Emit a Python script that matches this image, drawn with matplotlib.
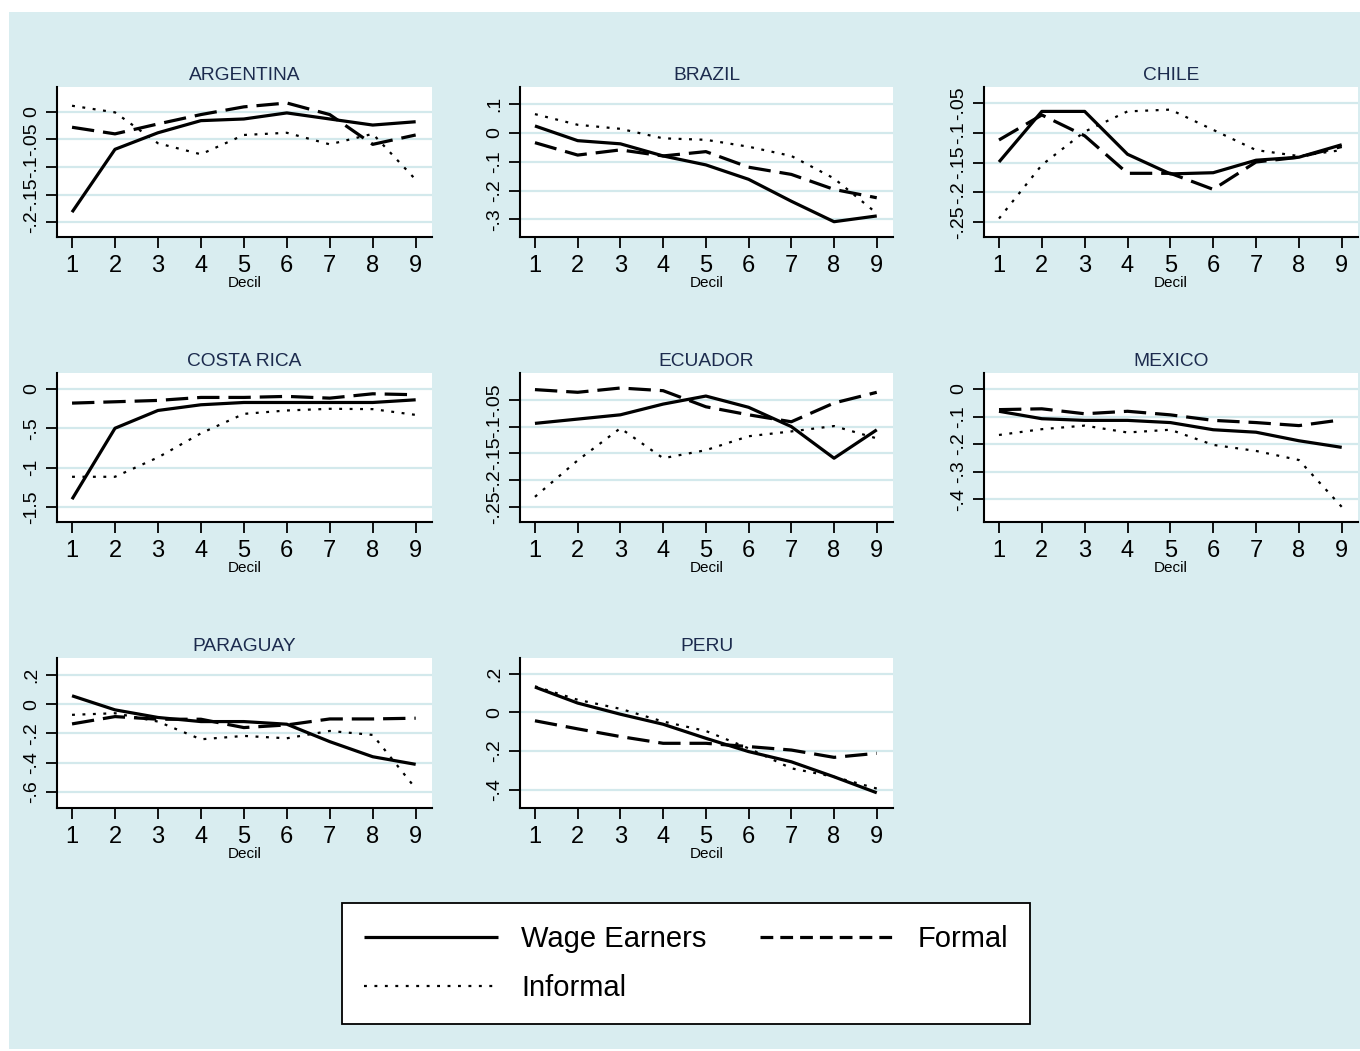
import numpy as np
import matplotlib
matplotlib.use("Agg")
import matplotlib.pyplot as plt
from matplotlib.patches import Rectangle
from matplotlib.lines import Line2D

plt.rcParams['font.family'] = ['Liberation Sans', 'DejaVu Sans']

deciles = [1, 2, 3, 4, 5, 6, 7, 8, 9]
countries = ["ARGENTINA", "BRAZIL", "CHILE", "COSTA RICA", "ECUADOR",
             "MEXICO", "PARAGUAY", "PERU"]

wage_earners = {
    "ARGENTINA": [-0.182, -0.068, -0.038, -0.016, -0.013, -0.002, -0.013, -0.024, -0.018],
    "BRAZIL": [0.024, -0.027, -0.038, -0.080, -0.111, -0.161, -0.237, -0.308, -0.288],
    "CHILE": [-0.149, -0.064, -0.064, -0.136, -0.169, -0.167, -0.146, -0.141, -0.120],
    "COSTA RICA": [-1.398, -0.500, -0.275, -0.203, -0.174, -0.174, -0.174, -0.174, -0.140],
    "ECUADOR": [-0.094, -0.086, -0.078, -0.058, -0.043, -0.064, -0.100, -0.159, -0.106],
    "MEXICO": [-0.081, -0.108, -0.114, -0.114, -0.122, -0.148, -0.157, -0.188, -0.212],
    "PARAGUAY": [0.057, -0.039, -0.091, -0.119, -0.119, -0.137, -0.256, -0.359, -0.411],
    "PERU": [0.132, 0.049, -0.009, -0.061, -0.134, -0.203, -0.256, -0.334, -0.417],
}
formal = {
    "ARGENTINA": [-0.028, -0.040, -0.022, -0.005, 0.009, 0.016, -0.005, -0.059, -0.042],
    "BRAZIL": [-0.034, -0.077, -0.059, -0.080, -0.065, -0.119, -0.144, -0.196, -0.225],
    "CHILE": [-0.112, -0.070, -0.105, -0.168, -0.168, -0.195, -0.149, -0.141, -0.123],
    "COSTA RICA": [-0.182, -0.165, -0.148, -0.110, -0.110, -0.097, -0.119, -0.064, -0.076],
    "ECUADOR": [-0.031, -0.036, -0.028, -0.033, -0.063, -0.078, -0.091, -0.056, -0.036],
    "MEXICO": [-0.075, -0.072, -0.090, -0.081, -0.094, -0.114, -0.122, -0.133, -0.112],
    "PARAGUAY": [-0.135, -0.085, -0.103, -0.103, -0.160, -0.142, -0.101, -0.101, -0.096],
    "PERU": [-0.043, -0.085, -0.125, -0.160, -0.160, -0.177, -0.195, -0.233, -0.212],
}
informal = {
    "ARGENTINA": [0.011, -0.001, -0.057, -0.077, -0.042, -0.038, -0.059, -0.040, -0.123],
    "BRAZIL": [0.065, 0.028, 0.014, -0.019, -0.024, -0.048, -0.080, -0.158, -0.279],
    "CHILE": [-0.244, -0.154, -0.098, -0.064, -0.061, -0.095, -0.129, -0.139, -0.129],
    "COSTA RICA": [-1.114, -1.114, -0.869, -0.564, -0.318, -0.275, -0.254, -0.258, -0.331],
    "ECUADOR": [-0.231, -0.163, -0.103, -0.159, -0.144, -0.118, -0.109, -0.099, -0.122],
    "MEXICO": [-0.167, -0.146, -0.133, -0.158, -0.148, -0.203, -0.225, -0.258, -0.428],
    "PARAGUAY": [-0.073, -0.062, -0.119, -0.240, -0.217, -0.233, -0.183, -0.210, -0.576],
    "PERU": [0.136, 0.066, 0.019, -0.047, -0.096, -0.186, -0.290, -0.334, -0.395],
}
y_ticks = {
    "ARGENTINA": [-0.2, -0.15, -0.1, -0.05, 0],
    "BRAZIL": [-0.3, -0.2, -0.1, 0, 0.1],
    "CHILE": [-0.25, -0.2, -0.15, -0.1, -0.05],
    "COSTA RICA": [-1.5, -1, -0.5, 0],
    "ECUADOR": [-0.25, -0.2, -0.15, -0.1, -0.05],
    "MEXICO": [-0.4, -0.3, -0.2, -0.1, 0],
    "PARAGUAY": [-0.6, -0.4, -0.2, 0, 0.2],
    "PERU": [-0.4, -0.2, 0, 0.2],
}

# axis ranges (padded like Stata does)
y_lims = {
    "ARGENTINA": (-0.227, 0.045),
    "BRAZIL": (-0.361, 0.159),
    "CHILE": (-0.275, -0.023),
    "COSTA RICA": (-1.686, 0.199),
    "ECUADOR": (-0.278, 0.0),
    "MEXICO": (-0.483, 0.058),
    "PARAGUAY": (-0.709, 0.315),
    "PERU": (-0.496, 0.283),
}

BG = "#d9edf0"
GRID = "#d3e9ec"
TITLE = "#1c2b4e"
W, H = 1360, 1051


def stata_label(v):
    s = f"{v:g}"
    return s.replace("0.", ".")


solid_kw = dict(color="black", lw=2.3, solid_capstyle="butt")
dash_kw = dict(color="black", lw=2.3, dashes=(7, 2.8), dash_capstyle="butt")
dot_kw = dict(color="black", lw=1.6, dashes=(1.3, 3.4), dash_capstyle="butt")

fig = plt.figure(figsize=(W / 100, H / 100), dpi=100, facecolor="white")
fig.patches.append(Rectangle((9 / W, 2 / H), 1 - 9 / W, 1 - 14 / H,
                             transform=fig.transFigure, facecolor=BG,
                             edgecolor="none", zorder=-10))

cols = [(57, 432), (520, 893), (984, 1358)]
rows = [(87, 237), (373, 522), (658, 808)]

for i, name in enumerate(countries):
    (x0, x1), (y0, y1) = cols[i % 3], rows[i // 3]
    ax = fig.add_axes([x0 / W, 1 - y1 / H, (x1 - x0) / W, (y1 - y0) / H])
    ax.set_facecolor("white")
    for s in ("top", "right"):
        ax.spines[s].set_visible(False)
    for s in ("left", "bottom"):
        ax.spines[s].set_linewidth(1.5)

    ax.plot(deciles, informal[name], **dot_kw, zorder=3)
    ax.plot(deciles, formal[name], **dash_kw, zorder=4)
    ax.plot(deciles, wage_earners[name], **solid_kw, zorder=5)

    ax.set_xlim(0.65, 9.38)
    ax.set_ylim(*y_lims[name])
    ax.set_xticks(deciles)
    ax.set_yticks(y_ticks[name])
    ax.set_yticklabels([stata_label(v) for v in y_ticks[name]],
                       rotation=90, va="center")
    ax.grid(axis="y", color=GRID, lw=1.6, zorder=1)
    ax.set_axisbelow(True)
    ax.tick_params(axis="x", length=8, width=1.3, labelsize=17, pad=5)
    ax.tick_params(axis="y", length=8, width=1.3, labelsize=14, pad=4)
    ax.set_xlabel("Decil", fontsize=11, labelpad=-1)
    ax.set_title(name, fontsize=13.8, color=TITLE, pad=5)

handles = [
    Line2D([], [], **solid_kw),
    Line2D([], [], **dot_kw),
    Line2D([], [], color="black", lw=2.3, dashes=(4, 2.2)),
]
labels = ["Wage Earners", "Informal", "Formal"]
leg = fig.legend(handles, labels, ncol=2, loc="center",
                 bbox_to_anchor=(342 / W, 1 - 1022 / H, 688 / W, 117 / H),
                 mode="expand", borderaxespad=0, fontsize=21,
                 handlelength=4.6, handletextpad=0.8, columnspacing=2.0,
                 labelspacing=0.7, borderpad=0.75, fancybox=False,
                 frameon=True, framealpha=1)
leg.get_frame().set_edgecolor("black")
leg.get_frame().set_linewidth(1.3)

fig.savefig("out.png", dpi=100, facecolor="white")
